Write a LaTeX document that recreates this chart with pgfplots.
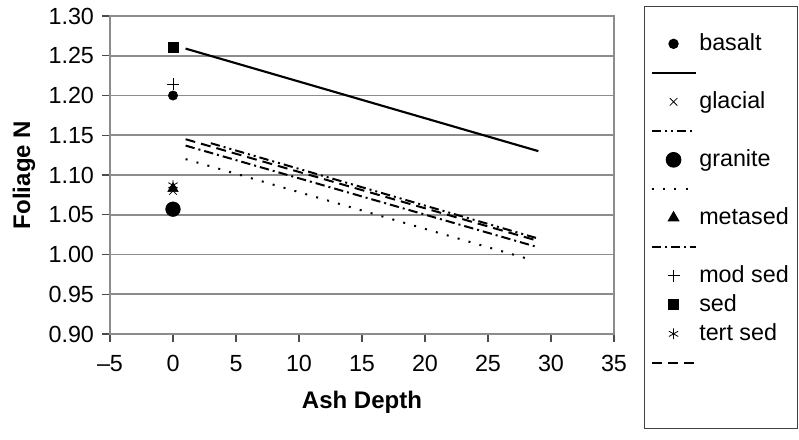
\documentclass[border=0pt]{standalone}
\usepackage{fontspec}
\setmainfont{Liberation Sans}
\usepackage{pgfplots}
\pgfplotsset{compat=1.18}
\begin{document}
\fontsize{17.5pt}{21pt}\selectfont
\begin{tikzpicture}
\useasboundingbox (-82.5pt,-78.75pt) rectangle (516.75pt,250.5pt);
\begin{axis}[
  at={(0pt,0pt)}, anchor=south west,
  scale only axis, width=378pt, height=238.5pt,
  xmin=-5, xmax=35, ymin=0.9, ymax=1.3,
  xtick={-5,0,5,10,15,20,25,30,35},
  xticklabels={–5,0,5,10,15,20,25,30,35},
  xticklabel style={yshift=-4pt},
  ytick={0.9,0.95,1,1.05,1.1,1.15,1.2,1.25,1.3},
  yticklabel style={/pgf/number format/.cd, fixed, fixed zerofill, precision=2, assume math mode=true},
  ymajorgrids, grid style={gray!90, line width=1.2pt},
  axis line style={gray!90, line width=1.2pt},
  tick style={black!70, line width=1pt},
  tick align=outside, major tick length=6pt,
  xtick pos=left, ytick pos=left,
  font=\fontsize{17.5pt}{21pt}\selectfont,
  xlabel={\textbf{Ash Depth}}, ylabel={\textbf{Foliage N}},
  xlabel style={at={([yshift=-51pt]axis description cs:0.5,0)}, anchor=center, font=\fontsize{18pt}{21pt}\selectfont},
  ylabel style={at={([xshift=-64.5pt]axis description cs:0,0.5)}, anchor=center, font=\fontsize{18pt}{21pt}\selectfont},
  legend style={at={(1.0595,1.031)}, anchor=north west, draw=black!75, line width=0.75pt,
    inner xsep=4.5pt, inner ysep=17pt, row sep=0pt,
    nodes={minimum height=21.75pt, inner ysep=0pt, inner xsep=2pt, anchor=west},
    font=\fontsize{17.5pt}{21pt}\selectfont},
  legend cell align=left,
  legend image code/.code={\draw[mark repeat=2,mark phase=2,#1] plot coordinates {(0pt,0pt) (16.5pt,0pt) (33pt,0pt)};},
]
% basalt
\addplot[only marks, mark=*, mark size=3.5pt, black] coordinates {(0,1.200)};
\addlegendentry{basalt}
\addplot[black, line width=1.6pt, no marks] coordinates {(1,1.259) (29,1.130)};
\addlegendentry{}
% glacial
\addplot[only marks, mark=x, mark size=4pt, black, line width=0.6pt] coordinates {(0,1.080)};
\addlegendentry{glacial}
\addplot[black, line width=1.5pt, no marks, dash pattern=on 7pt off 3pt on 1.5pt off 3pt on 1.5pt off 3pt] coordinates {(3,1.140) (29,1.020)};
\addlegendentry{}
% granite
\addplot[only marks, mark=*, mark size=5.5pt, black] coordinates {(0,1.057)};
\addlegendentry{granite}
\addplot[black, line width=1.5pt, no marks, dash pattern=on 1.5pt off 7pt] coordinates {(1,1.120) (28.5,0.993)};
\addlegendentry{}
% metased
\addplot[only marks, mark=triangle*, mark size=4.5pt, black] coordinates {(0,1.083)};
\addlegendentry{metased}
\addplot[black, line width=1.5pt, no marks, dash pattern=on 7pt off 3pt on 1.5pt off 3pt] coordinates {(1,1.137) (29,1.009)};
\addlegendentry{}
% mod sed
\addplot[only marks, mark=+, mark size=4.5pt, black, line width=0.6pt] coordinates {(0,1.214)};
\addlegendentry{mod sed}
% sed
\addplot[only marks, mark=square*, mark size=3.75pt, black] coordinates {(0,1.261)};
\addlegendentry{sed}
% tert sed
\addplot[only marks, mark=asterisk, mark size=4pt, black, line width=0.6pt] coordinates {(0,1.087)};
\addlegendentry{tert sed}
\addplot[black, line width=1.5pt, no marks, dash pattern=on 7.5pt off 4.5pt] coordinates {(1,1.145) (29,1.017)};
\addlegendentry{}
\addlegendimage{empty legend}
\addlegendentry{}
\end{axis}
\end{tikzpicture}
\end{document}
